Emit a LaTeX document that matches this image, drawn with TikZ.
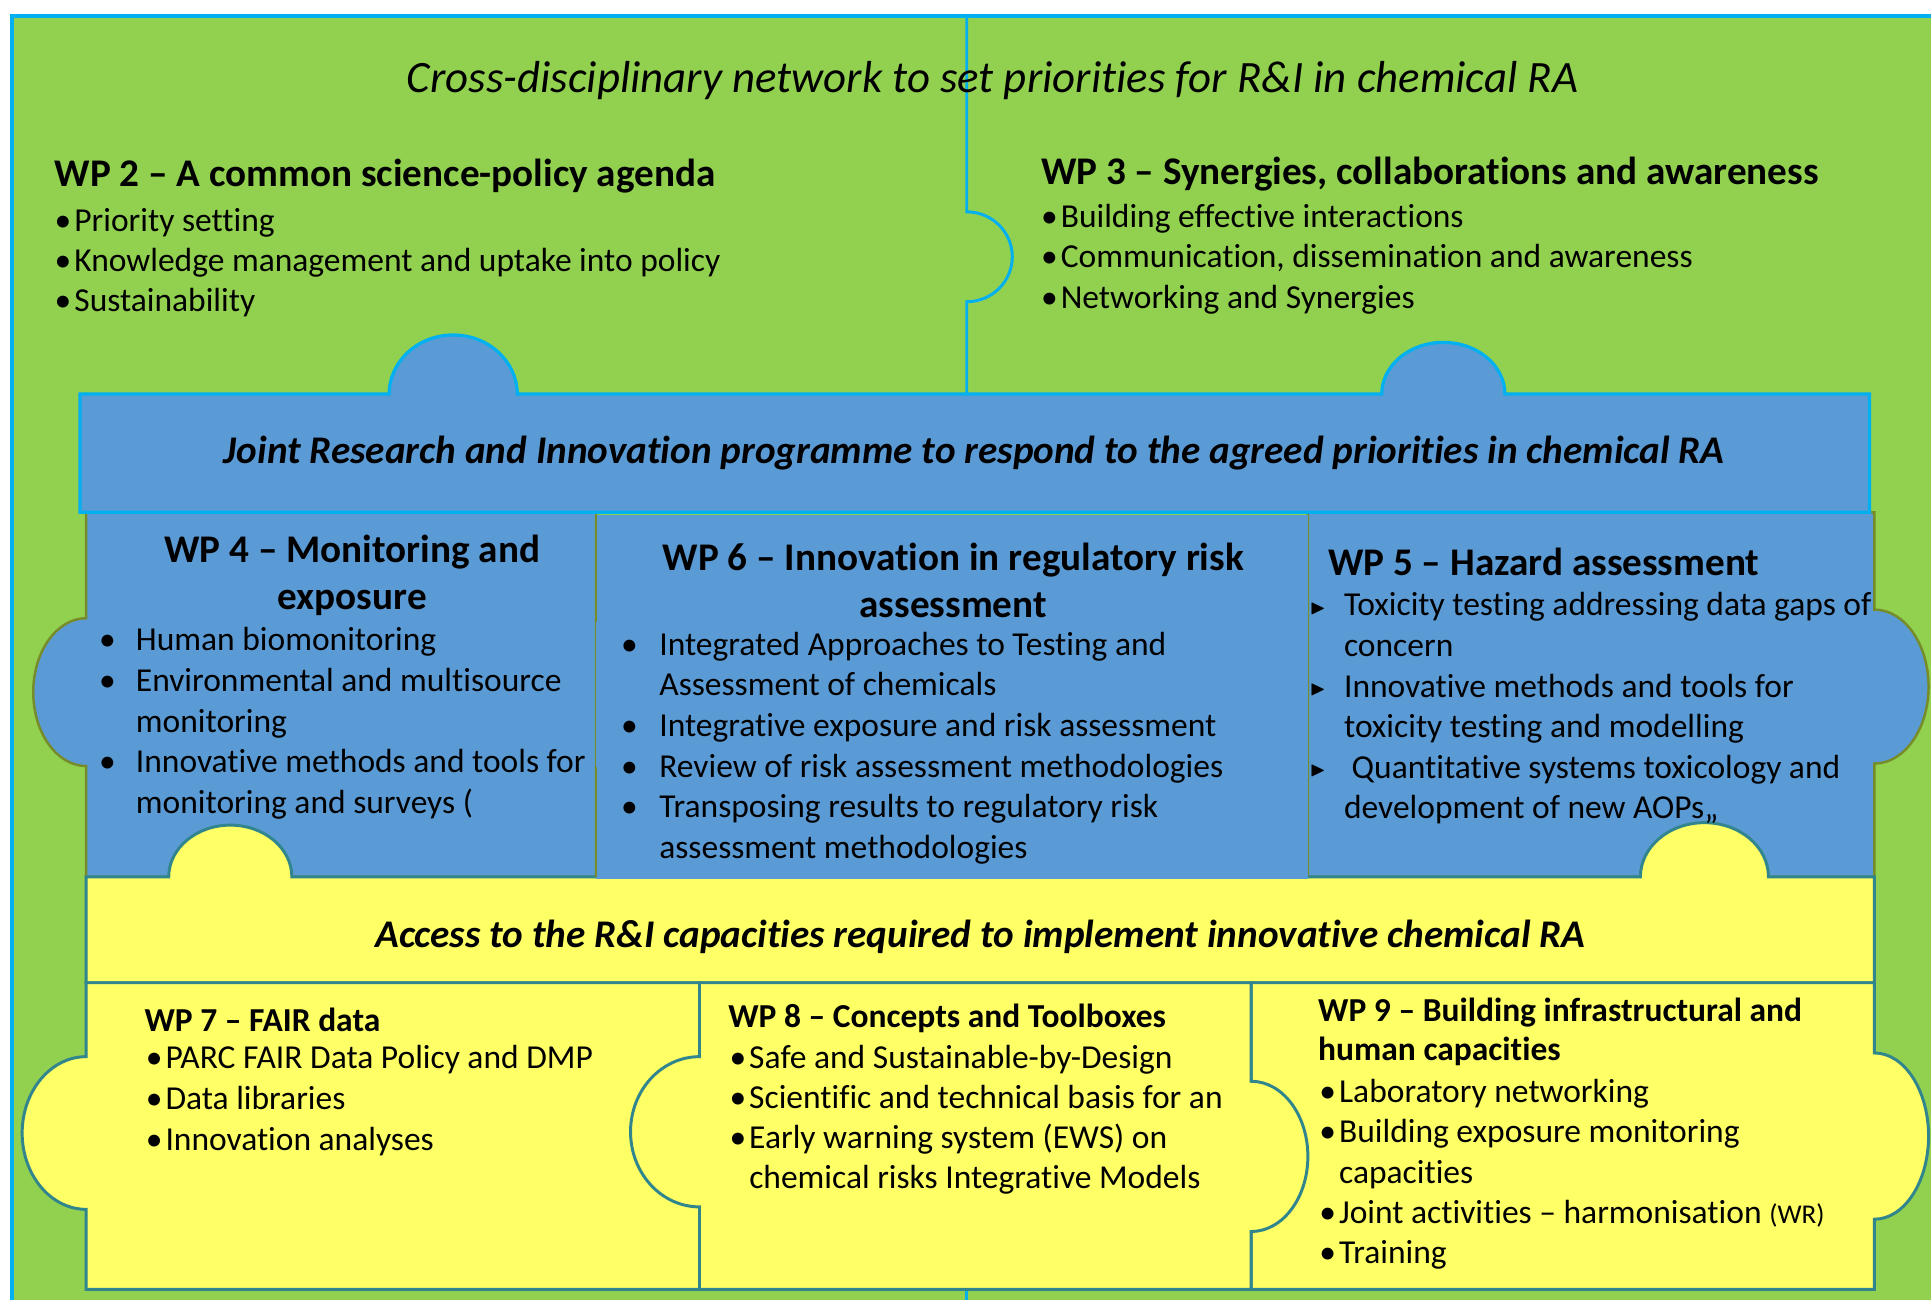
\documentclass[tikz,border=0pt]{standalone}
\usepackage{fontspec}
\usepackage{amssymb}
\setmainfont{Carlito}[Ligatures=NoCommon]
\usetikzlibrary{positioning}

\definecolor{wpgreen}{RGB}{146,208,80}
\definecolor{wpblue}{RGB}{91,155,213}
\definecolor{wpyellow}{RGB}{255,255,102}
\definecolor{wpcyan}{RGB}{0,176,240}
\definecolor{wpolive}{RGB}{118,140,42}
\definecolor{wpteal}{RGB}{49,133,140}

\newcommand{\wplist}[2]{\begin{tabular}[t]{@{}p{#1}@{}l@{}}#2\end{tabular}}
\newcommand{\tribul}{\raisebox{1pt}{\fontsize{7.5}{7.5}\selectfont$\blacktriangleright$}}

\begin{document}
\begin{tikzpicture}[x=0.5pt, y=-0.5pt,
    bandtext/.style={font=\fontsize{15.9}{19}\selectfont\bfseries\itshape, inner sep=0},
    wphead/.style={font=\fontsize{15.9}{19}\selectfont\bfseries, inner sep=0},
    wpitems/.style={font=\fontsize{13.6}{16.3}\selectfont, inner sep=0, anchor=base west},
    smallhead/.style={font=\fontsize{13.6}{16}\selectfont\bfseries, inner sep=0},
    smallitems/.style={font=\fontsize{13.6}{16.5}\selectfont, inner sep=0, anchor=base west}]
\fill[white] (0,0) rectangle (1568,1056);
\useasboundingbox (0,0) rectangle (1568,1056);

% green pieces
\fill[wpgreen] (10,13) rectangle (1568,1056);
\draw[wpcyan, line width=1.5pt] (10,1056) -- (10,13) -- (1568,13);
\draw[wpcyan, line width=1.2pt] (785,13) -- (785,172)
    arc[start angle=90, end angle=-90, x radius=18.5pt, y radius=18.25pt] -- (785,320);
\draw[wpcyan, line width=1.2pt] (785,1047) -- (785,1056);

% blue row
\filldraw[fill=wpblue, draw=wpolive, line width=1pt] (70,416) -- (484,416) -- (484,712) -- (70,712) -- (70,622)
    arc[start angle=270, end angle=90, x radius=21.5pt, y radius=30pt] -- cycle;
\filldraw[fill=wpblue, draw=wpolive, line width=1pt] (1062,416) -- (1522,416) -- (1522,495)
    arc[start angle=90, end angle=-90, x radius=22pt, y radius=31.25pt] -- (1522,712) -- (1062,712) -- cycle;

% yellow band
\filldraw[fill=wpyellow, draw=wpteal, line width=1.2pt] (70,798) -- (70,712) -- (137,712)
    arc[start angle=180, end angle=0, x radius=25pt, y radius=21pt] -- (1332,712)
    arc[start angle=180, end angle=0, x radius=26pt, y radius=22pt] -- (1522,712) -- (1522,798) -- cycle;
\fill[wpblue] (484,418) rectangle (1062,714);
\draw[wpolive, line width=1pt] (484,418) -- (484,505) (484,623) -- (484,712);

% blue band
\filldraw[fill=wpblue, draw=wpcyan, line width=1.3pt] (65,416) -- (65,320) -- (316,320)
    arc[start angle=180, end angle=0, x radius=26pt, y radius=24pt] -- (1122,320)
    arc[start angle=180, end angle=0, x radius=25pt, y radius=21pt] -- (1518,320) -- (1518,416) -- cycle;

% yellow row
\filldraw[fill=wpyellow, draw=wpteal, line width=1.2pt] (70,798) -- (568,798) -- (568,1047) -- (70,1047) -- (70,982)
    arc[start angle=270, end angle=90, x radius=26pt, y radius=31pt] -- cycle;
\filldraw[fill=wpyellow, draw=wpteal, line width=1.2pt] (1016,798) -- (1522,798) -- (1522,855)
    arc[start angle=90, end angle=-90, x radius=22pt, y radius=33.75pt] -- (1522,1047) -- (1016,1047) -- cycle;
\filldraw[fill=wpyellow, draw=wpteal, line width=1.2pt] (568,798) -- (1016,798) -- (1016,878)
    arc[start angle=90, end angle=-90, x radius=23pt, y radius=30.5pt] -- (1016,1047) -- (568,1047) -- (568,980)
    arc[start angle=270, end angle=90, x radius=28pt, y radius=30.5pt] -- cycle;

% texts
\begin{scope}[yshift=-1.5pt]
\node[font=\fontsize{18.2}{21}\selectfont\itshape, inner sep=0] (title) at (806,62)
    {Cross-disciplinary network to set priorities for R\&I in chemical RA};
\node[wphead, anchor=west] (wp2) at (44,140) {WP 2 – A common science-policy agenda};
\node[wpitems] (wp2list) at (44,185) {\wplist{8pt}{\textbullet & Priority setting\\
    \textbullet & Knowledge management and uptake into policy\\ \textbullet & Sustainability}};
\node[wphead, anchor=west] (wp3) at (845,138) {WP 3 – Synergies, collaborations and awareness};
\node[wpitems] (wp3list) at (845,182) {\wplist{8pt}{\textbullet & Building effective interactions\\
    \textbullet & Communication, dissemination and awareness\\ \textbullet & Networking and Synergies}};

\node[bandtext] (joint) at (791,365)
    {Joint Research and Innovation programme to respond to the agreed priorities in chemical RA};

\node[wphead, align=center] (wp4) at (286,464) {WP 4 – Monitoring and\\ exposure};
\node[wpitems, font=\fontsize{13.6}{16.6}\selectfont] (wp4list) at (80,525) {\wplist{15pt}{\textbullet & Human biomonitoring\\
    \textbullet & Environmental and multisource\\ & monitoring\\
    \textbullet & Innovative methods and tools for\\ & monitoring and surveys (}};
\node[wphead, align=center] (wp6) at (774,468) {WP 6 – Innovation in regulatory risk\\ assessment};
\node[wpitems, font=\fontsize{13.6}{16.5}\selectfont] (wp6list) at (504,529) {\wplist{15.5pt}{\textbullet & Integrated Approaches to Testing and\\
    & Assessment of chemicals\\ \textbullet & Integrative exposure and risk assessment\\
    \textbullet & Review of risk assessment methodologies\\
    \textbullet & Transposing results to regulatory risk\\ & assessment methodologies}};
\node[wphead, anchor=west] (wp5) at (1078,453) {WP 5 – Hazard assessment};
\node[wpitems, font=\fontsize{13.6}{16.5}\selectfont] (wp5list) at (1063,497) {\wplist{14pt}{\tribul & Toxicity testing addressing data gaps of\\
    & concern\\ \tribul & Innovative methods and tools for\\ & toxicity testing and modelling\\
    \tribul & \ Quantitative systems toxicology and\\ & development of new AOPs,,}};

\node[bandtext] (access) at (796,758)
    {Access to the R\&I capacities required to implement innovative chemical RA};

\node[smallhead, anchor=west] (wp7) at (117,825) {WP 7 – FAIR data};
\node[smallitems] (wp7list) at (118,865) {\wplist{8pt}{\textbullet & PARC FAIR Data Policy and DMP\\
    \textbullet & Data libraries\\ \textbullet & Innovation analyses}};
\node[smallhead, anchor=west] (wp8) at (591,824) {WP 8 – Concepts and Toolboxes};
\node[smallitems, font=\fontsize{13.6}{16.2}\selectfont] (wp8list) at (592,865) {\wplist{8pt}{\textbullet & Safe and Sustainable-by-Design\\
    \textbullet & Scientific and technical basis for an\\ \textbullet & Early warning system (EWS) on\\
    & chemical risks Integrative Models}};
\node[smallhead, align=left, anchor=west] (wp9) at (1070,835) {WP 9 – Building infrastructural and\\ human capacities};
\node[smallitems, font=\fontsize{13.6}{16.4}\selectfont] (wp9list) at (1071,892) {\wplist{8pt}{\textbullet & Laboratory networking\\
    \textbullet & Building exposure monitoring\\ & capacities\\
    \textbullet & Joint activities – harmonisation {\fontsize{11}{12}\selectfont(WR)}\\ \textbullet & Training}};
\end{scope}
\end{tikzpicture}
\end{document}
